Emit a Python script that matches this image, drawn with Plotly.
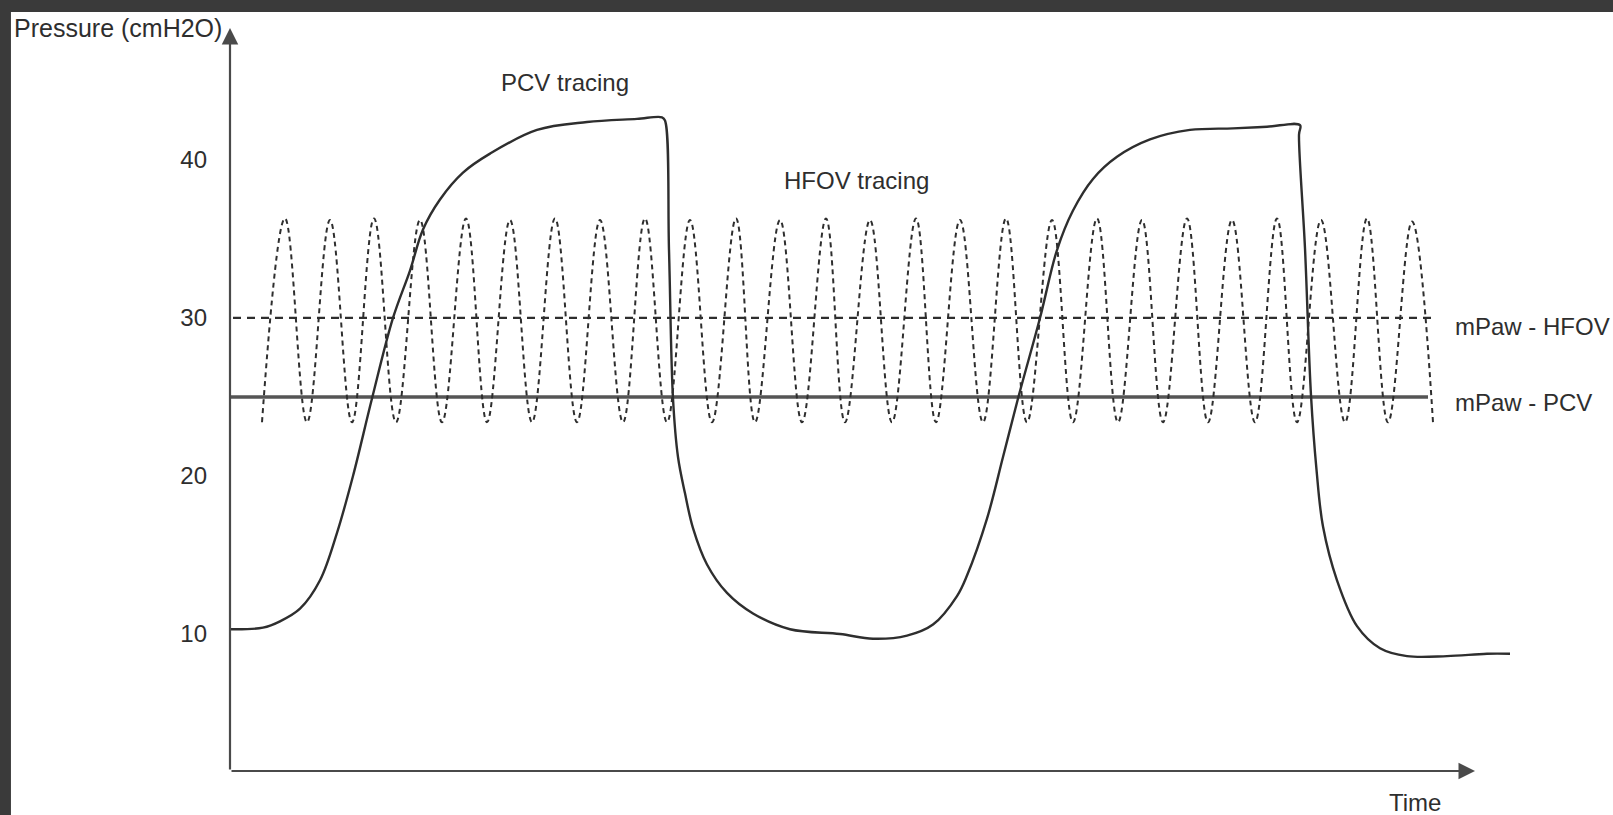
import plotly.graph_objects as go

# ---- data (time in arbitrary units, pressure in cmH2O) ----
pcv_time = [0.00, 0.33, 0.50, 0.70, 0.90, 1.07, 1.23, 1.42, 1.63, 1.80, 1.93, 2.10, 2.33,
            2.60, 3.07, 3.57, 4.07, 4.32, 4.35, 4.39, 4.43, 4.48, 4.55, 4.63, 4.77, 4.97,
            5.23, 5.60, 6.10, 6.43, 6.77, 7.03, 7.27, 7.37, 7.57, 7.73, 7.88, 8.10,
            8.27, 8.43, 8.63, 8.87, 9.20, 9.60, 10.03, 10.37, 10.70, 10.69, 10.75, 10.81,
            10.865, 10.93, 11.07, 11.27, 11.50, 11.77, 12.17, 12.57, 12.80]
pcv_pressure = [10.3, 10.4, 10.8, 11.6, 13.4, 16.4, 20.0, 24.9, 30.0, 33.0, 35.6, 37.5, 39.2,
                40.4, 41.9, 42.4, 42.6, 42.7, 42.5, 34.3, 24.9, 21.2, 18.9, 16.7, 14.4, 12.6,
                11.3, 10.3, 10.0, 9.7, 9.9, 10.6, 12.4, 13.7, 17.3, 21.2, 24.9, 30.0,
                34.3, 36.8, 38.8, 40.2, 41.3, 41.9, 42.0, 42.1, 42.2, 41.6, 34.4, 25.1,
                20.4, 16.8, 13.4, 10.5, 9.1, 8.6, 8.6, 8.75, 8.75]

hfov_time = [0.32, 0.55, 0.77, 1.00, 1.22, 1.44, 1.66, 1.90, 2.12, 2.36, 2.57, 2.80, 3.02,
             3.25, 3.47, 3.70, 3.93, 4.15, 4.37, 4.60, 4.82, 5.06, 5.25, 5.50, 5.72, 5.96,
             6.15, 6.40, 6.62, 6.86, 7.06, 7.30, 7.53, 7.76, 7.97, 8.22, 8.43, 8.67, 8.88,
             9.12, 9.33, 9.57, 9.78, 10.02, 10.25, 10.47, 10.67, 10.91, 11.15, 11.37, 11.58,
             11.82, 12.03]
hfov_pressure = [23.4, 36.3, 23.4, 36.2, 23.4, 36.3, 23.4, 36.2, 23.4, 36.3, 23.4, 36.2, 23.4,
                 36.3, 23.4, 36.2, 23.4, 36.3, 23.4, 36.2, 23.4, 36.3, 23.4, 36.2, 23.4, 36.3,
                 23.4, 36.2, 23.4, 36.3, 23.4, 36.2, 23.4, 36.3, 23.4, 36.2, 23.4, 36.3, 23.4,
                 36.2, 23.4, 36.3, 23.4, 36.2, 23.4, 36.3, 23.4, 36.2, 23.4, 36.3, 23.4,
                 36.1, 23.4]

mpaw_pcv = 25
mpaw_hfov = 30
mpaw_pcv_span = [0.0, 11.98]
mpaw_hfov_span = [0.03, 12.03]

y_tick_values = [10, 20, 30, 40]
y_tick_labels = ["10", "20", "30", "40"]

X_RANGE = [0, 13]
Y_RANGE = [1.33, 48.35]
X_AXIS_END = 12.45

FONT = "Liberation Sans, Arial, Helvetica, sans-serif"
INK = "#2e2e2e"
AXIS = "#4a4a4a"

fig = go.Figure()

fig.add_trace(go.Scatter(
    x=mpaw_hfov_span, y=[mpaw_hfov, mpaw_hfov], mode="lines",
    line=dict(color=INK, width=2.2, dash="8px,6px"), hoverinfo="skip", showlegend=False))
fig.add_trace(go.Scatter(
    x=mpaw_pcv_span, y=[mpaw_pcv, mpaw_pcv], mode="lines",
    line=dict(color="#555555", width=3.5), hoverinfo="skip", showlegend=False))
fig.add_trace(go.Scatter(
    x=hfov_time, y=hfov_pressure, mode="lines",
    line=dict(color=INK, width=2, dash="5px,4px", shape="spline", smoothing=1.1),
    hoverinfo="skip", showlegend=False))
fig.add_trace(go.Scatter(
    x=pcv_time, y=pcv_pressure, mode="lines",
    line=dict(color=INK, width=2.4, shape="spline", smoothing=1.0),
    hoverinfo="skip", showlegend=False))

annotations = [
    # axes with arrowheads
    dict(x=0, y=Y_RANGE[1], ax=0, ay=Y_RANGE[0], xref="x", yref="y", axref="x", ayref="y",
         text="", showarrow=True, arrowhead=2, arrowsize=1.5, arrowwidth=2.2,
         arrowcolor=AXIS, standoff=0),
    dict(x=X_AXIS_END, y=Y_RANGE[0], ax=0, ay=Y_RANGE[0], xref="x", yref="y", axref="x",
         ayref="y", text="", showarrow=True, arrowhead=2, arrowsize=1.5, arrowwidth=2.2,
         arrowcolor=AXIS, standoff=0),
    dict(x=-0.1677, y=1.0, xref="paper", yref="paper", xanchor="left", yanchor="middle",
         text="Pressure (cmH2O)", showarrow=False, font=dict(size=25, color=INK, family=FONT)),
    dict(x=0.9115, y=-0.043, xref="paper", yref="paper", xanchor="center", yanchor="middle",
         text="Time", showarrow=False, font=dict(size=24, color=INK, family=FONT)),
    dict(x=3.35, y=44.87, xref="x", yref="y", text="PCV tracing", showarrow=False,
         font=dict(size=24, color=INK, family=FONT)),
    dict(x=6.26, y=38.67, xref="x", yref="y", text="HFOV tracing", showarrow=False,
         font=dict(size=24, color=INK, family=FONT)),
    dict(x=12.23, y=29.43, xref="x", yref="y", xanchor="left", text="mPaw - HFOV",
         showarrow=False, font=dict(size=24, color=INK, family=FONT)),
    dict(x=12.23, y=24.68, xref="x", yref="y", xanchor="left", text="mPaw - PCV",
         showarrow=False, font=dict(size=24, color=INK, family=FONT)),
]

shapes = [
    # dark frame bands of the screenshot (top and left)
    dict(type="rect", xref="paper", yref="paper", x0=-0.18, x1=1.07, y0=1.0215, y1=1.04,
         fillcolor="#3a3a3a", line=dict(width=0), layer="above"),
    dict(type="rect", xref="paper", yref="paper", x0=-0.18, x1=-0.1685, y0=-0.06, y1=1.04,
         fillcolor="#3a3a3a", line=dict(width=0), layer="above"),
]

fig.update_layout(
    width=1613, height=815,
    margin=dict(l=230, r=83, t=28, b=44, pad=0),
    paper_bgcolor="white", plot_bgcolor="white",
    showlegend=False,
    annotations=annotations,
    shapes=shapes,
    font=dict(family=FONT, size=24, color=INK),
    xaxis=dict(range=X_RANGE, showgrid=False, zeroline=False, showline=False,
               showticklabels=False, ticks="", fixedrange=True),
    yaxis=dict(range=Y_RANGE, showgrid=False, zeroline=False, showline=False,
               tickvals=y_tick_values, ticktext=y_tick_labels, ticks="",
               ticklabelstandoff=22, tickfont=dict(size=24, color=INK, family=FONT),
               fixedrange=True),
)

fig.write_html("out.html", config={"displayModeBar": False},
               post_script="document.body.style.margin='0';document.body.style.overflow='hidden';")
